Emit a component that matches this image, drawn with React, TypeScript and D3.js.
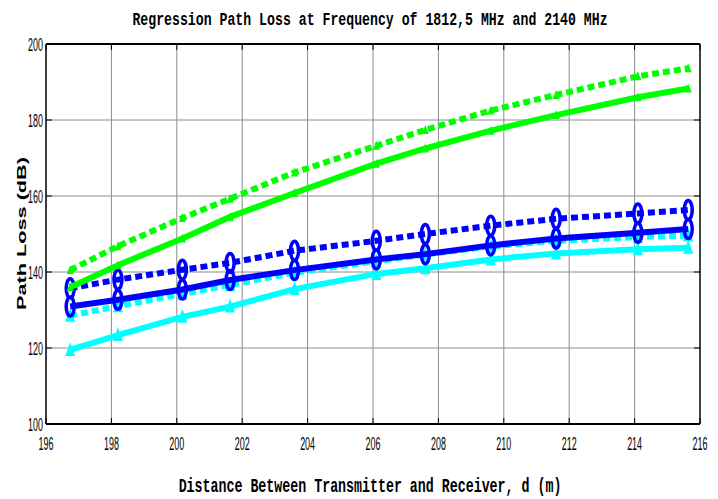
import React from 'react';
import * as d3 from 'd3';

// distances (m) where the models were evaluated
const distances = [196.74, 198.2, 200.17, 201.63, 203.6, 206.1, 207.6, 209.6, 211.6, 214.1, 215.64];

// path loss (dB) for each regression curve
const greenDashed = [140.5, 146.8, 154.2, 159.3, 166.2, 173.2, 177.4, 182.5, 186.6, 191.5, 193.6];
const greenSolid = [136.0, 141.8, 148.8, 154.5, 160.8, 168.5, 172.5, 177.2, 181.3, 186.0, 188.3];
const blueDashed = [135.7, 138.0, 140.6, 142.4, 145.6, 148.2, 150.0, 152.2, 154.0, 155.4, 156.3];
const blueSolid = [130.9, 132.7, 135.4, 137.9, 140.5, 143.3, 144.7, 147.0, 148.8, 150.3, 151.3];
const cyanDashed = [128.5, 131.0, 134.2, 136.6, 139.8, 142.8, 144.6, 146.7, 148.2, 149.2, 149.6];
const cyanSolid = [119.5, 123.4, 128.2, 130.9, 135.5, 139.5, 141.0, 143.3, 144.9, 146.0, 146.4];

const xTicks = [196, 198, 200, 202, 204, 206, 208, 210, 212, 214, 216];
const yTicks = [100, 120, 140, 160, 180, 200];

const series = [
  { values: cyanSolid, color: '#00ffff', dash: '', marker: 'tri' },
  { values: cyanDashed, color: '#00ffff', dash: '7,4', marker: 'tri' },
  { values: blueSolid, color: '#0000ff', dash: '', marker: 'ellipse' },
  { values: blueDashed, color: '#0000ff', dash: '7,4', marker: 'ellipse' },
  { values: greenSolid, color: '#00ff00', dash: '', marker: 'small' },
  { values: greenDashed, color: '#00ff00', dash: '7,4', marker: 'small' },
];

const left = 46, right = 700, top = 44, bottom = 424;

export default function App() {
  const x = d3.scaleLinear().domain([196, 216]).range([left, right]);
  const y = d3.scaleLinear().domain([100, 200]).range([bottom, top]);
  const line = d3.line<number>().x((d, i) => x(distances[i])).y(d => y(d));

  const marker = (kind: string, cx: number, cy: number, color: string, key: string) => {
    if (kind === 'tri') {
      return <path key={key} d={`M${cx},${cy - 8} L${cx + 5},${cy + 6} L${cx - 5},${cy + 6} Z`} fill={color} />;
    }
    if (kind === 'ellipse') {
      return <ellipse key={key} cx={cx} cy={cy} rx={4} ry={9.5} fill="none" stroke={color} strokeWidth={3.5} />;
    }
    return <path key={key} d={`M${cx},${cy - 5} L${cx + 3.5},${cy + 4} L${cx - 3.5},${cy + 4} Z`} fill={color} />;
  };

  const tickFont = { fontFamily: 'Liberation Sans, Arial', fontSize: 19 };
  const monoFont = { fontFamily: 'Liberation Mono, Courier New, monospace', fontWeight: 'bold' as const };

  return (
    <svg width={718} height={499} style={{ position: 'absolute', left: 0, top: 0, background: '#fff' }}>
      <rect x={0} y={0} width={718} height={499} fill="#fff" />
      {/* grid */}
      <g stroke="#8c8c8c" strokeWidth={1}>
        {xTicks.slice(1, -1).map(t => (
          <line key={`gx${t}`} x1={x(t)} x2={x(t)} y1={top} y2={bottom} />
        ))}
        {yTicks.slice(1, -1).map(t => (
          <line key={`gy${t}`} x1={left} x2={right} y1={y(t)} y2={y(t)} />
        ))}
      </g>
      {/* inward ticks */}
      <g stroke="#000" strokeWidth={1}>
        {xTicks.map(t => (
          <g key={`tx${t}`}>
            <line x1={x(t)} x2={x(t)} y1={bottom} y2={bottom - 6} />
            <line x1={x(t)} x2={x(t)} y1={top} y2={top + 6} />
          </g>
        ))}
        {yTicks.map(t => (
          <g key={`ty${t}`}>
            <line x1={left} x2={left + 6} y1={y(t)} y2={y(t)} />
            <line x1={right} x2={right - 6} y1={y(t)} y2={y(t)} />
          </g>
        ))}
      </g>
      {/* curves */}
      {series.map((s, si) => (
        <g key={`s${si}`}>
          <path d={line(s.values) || ''} fill="none" stroke={s.color} strokeWidth={6} strokeDasharray={s.dash} />
          {s.values.map((v, i) => marker(s.marker, x(distances[i]), y(v), s.color, `m${si}-${i}`))}
        </g>
      ))}
      {/* axes box */}
      <line x1={left} x2={right} y1={top} y2={top} stroke="#000" strokeWidth={2} />
      <line x1={left} x2={right} y1={bottom} y2={bottom} stroke="#000" strokeWidth={2} />
      <line x1={left} x2={left} y1={top} y2={bottom} stroke="#000" strokeWidth={1.5} />
      <line x1={right} x2={right} y1={top} y2={bottom} stroke="#000" strokeWidth={1.5} />
      {/* tick labels, squeezed like the original narrow font */}
      {yTicks.map(t => (
        <text key={`ly${t}`} transform={`translate(43,${y(t) + 7}) scale(0.47,1)`} textAnchor="end" {...tickFont}>{t}</text>
      ))}
      {xTicks.map(t => (
        <text key={`lx${t}`} transform={`translate(${x(t)},450) scale(0.47,1)`} textAnchor="middle" {...tickFont}>{t}</text>
      ))}
      {/* title */}
      <text transform="translate(370,25) scale(1,1.45)" textAnchor="middle" fontSize={13.2} {...monoFont}>
        Regression Path Loss at Frequency of 1812,5 MHz and 2140 MHz
      </text>
      {/* x label */}
      <text transform="translate(370,492) scale(1,1.5)" textAnchor="middle" fontSize={13.3} {...monoFont}>
        Distance Between Transmitter and Receiver, d (m)
      </text>
      {/* y label */}
      <text transform="translate(26,310) rotate(-90)" x={0} y={0} fontFamily="Liberation Sans, Arial" fontWeight="bold"
        fontSize={12} textLength={153} lengthAdjust="spacingAndGlyphs">
        Path Loss (dB)
      </text>
    </svg>
  );
}
